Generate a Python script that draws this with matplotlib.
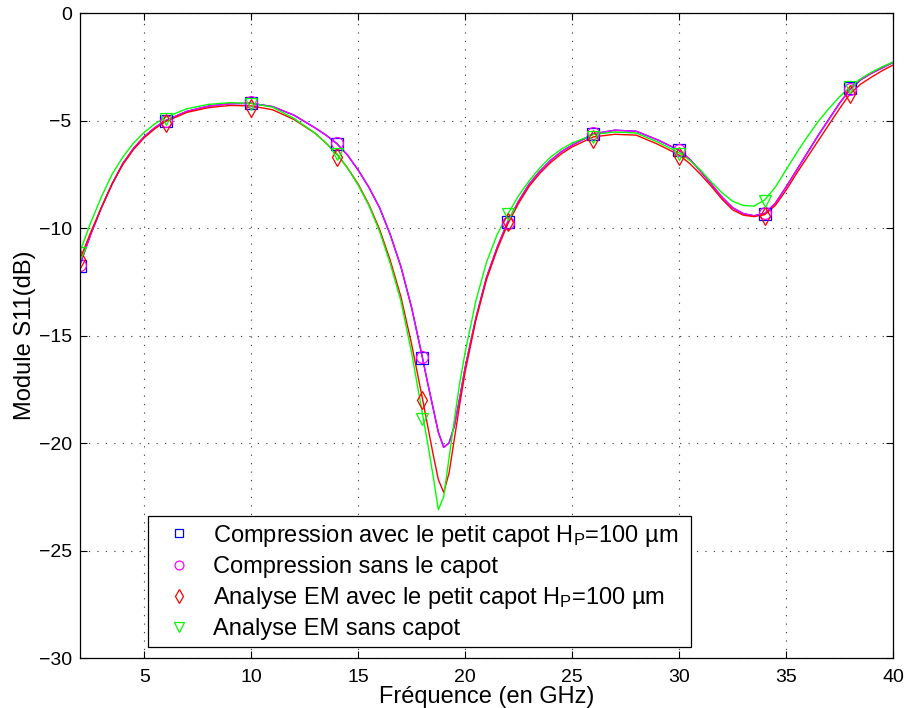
import matplotlib
matplotlib.use("Agg")
import matplotlib.pyplot as plt

plt.rcParams['font.family'] = ['Liberation Sans', 'DejaVu Sans']
plt.rcParams['mathtext.fontset'] = 'custom'
plt.rcParams['mathtext.rm'] = 'Liberation Sans'
plt.rcParams['mathtext.it'] = 'Liberation Sans'

# measured points (GHz, dB)
freq = [2, 6, 10, 14, 18, 22, 26, 30, 34, 38]
comp_avec = [-11.75, -5.0, -4.2, -6.1, -16.05, -9.7, -5.65, -6.38, -9.33, -3.5]
comp_sans = [-11.7, -5.0, -4.15, -6.05, -16.0, -9.75, -5.6, -6.35, -9.3, -3.55]
em_avec = [-11.45, -5.1, -4.4, -6.7, -18.0, -9.7, -5.85, -6.65, -9.45, -3.75]
em_sans = [-11.15, -4.95, -4.25, -6.55, -18.9, -9.35, -5.75, -6.55, -8.75, -3.45]

# smooth curves
f_curve = [2, 2.5, 3, 3.5, 4, 4.5, 5, 5.5,
           6, 7, 8, 9, 10, 11, 12, 13,
           13.5, 14, 14.5, 15, 15.5, 16, 16.5, 17, 17.5,
           18, 18.25, 18.5, 18.75, 19, 19.25, 19.5, 19.75, 20,
           20.5, 21, 21.5, 22, 22.5, 23, 23.5, 24, 24.5, 25,
           26, 27, 28, 29, 30,
           30.5, 31, 31.5, 32, 32.5, 33, 33.5, 34, 34.5, 35,
           35.5, 36, 36.5, 37, 37.5, 38, 38.5, 39, 39.5, 40]
curve_comp = [-11.7, -10.3, -9.05, -7.95, -7.0, -6.3, -5.75, -5.33,
              -5.0, -4.57, -4.33, -4.22, -4.2, -4.35, -4.75, -5.35,
              -5.68, -6.07, -6.6, -7.3, -8.1, -9.05, -10.3, -11.8, -13.7,
              -16.0, -17.2, -18.35, -19.5, -20.2, -20.0, -19.2, -17.9, -16.5,
              -14.2, -12.3, -10.9, -9.7, -8.75, -7.95, -7.35, -6.85, -6.45, -6.15,
              -5.62, -5.45, -5.5, -5.9, -6.38,
              -6.8, -7.35, -7.95, -8.55, -9.05, -9.33, -9.43, -9.33, -8.85, -8.1,
              -7.3, -6.5, -5.7, -4.95, -4.2, -3.55, -3.1, -2.8, -2.55, -2.3]
curve_em_avec = [-11.45, -10.2, -9.05, -7.95, -7.05, -6.35, -5.8, -5.38,
                 -5.05, -4.62, -4.4, -4.3, -4.32, -4.5, -4.95, -5.6,
                 -6.05, -6.55, -7.2, -7.95, -8.9, -10.05, -11.5, -13.2, -15.4,
                 -17.9, -19.2, -20.5, -21.7, -22.3, -21.4, -19.8, -18.2, -16.7,
                 -14.3, -12.4, -11.0, -9.8, -8.85, -8.05, -7.45, -6.95, -6.55, -6.23,
                 -5.76, -5.64, -5.68, -6.1, -6.6,
                 -7.0, -7.5, -8.05, -8.65, -9.15, -9.4, -9.47, -9.38, -8.95, -8.25,
                 -7.45, -6.7, -5.95, -5.2, -4.45, -3.75, -3.3, -2.98, -2.68, -2.42]
curve_em_sans = [-11.1, -9.75, -8.55, -7.5, -6.7, -6.05, -5.55, -5.15,
                 -4.85, -4.45, -4.25, -4.17, -4.2, -4.38, -4.9, -5.6,
                 -6.05, -6.55, -7.2, -8.0, -8.95, -10.15, -11.65, -13.4, -15.8,
                 -18.6, -20.0, -21.5, -23.1, -22.5, -20.7, -18.9, -17.2, -15.8,
                 -13.4, -11.6, -10.3, -9.35, -8.5, -7.8, -7.2, -6.7, -6.33, -6.05,
                 -5.65, -5.53, -5.58, -6.0, -6.5,
                 -6.85, -7.3, -7.85, -8.35, -8.75, -8.95, -8.98, -8.7, -8.1, -7.3,
                 -6.5, -5.75, -5.05, -4.45, -3.9, -3.43, -3.05, -2.75, -2.5, -2.28]

labels = ['Compression avec le petit capot H$_\\mathrm{P}$=100 µm',
          'Compression sans le capot',
          'Analyse EM avec le petit capot H$_\\mathrm{P}$=100 µm',
          'Analyse EM sans capot']

fig = plt.figure(figsize=(9.05, 7.08), dpi=100)
ax = fig.add_axes([0.0884, 0.0706, 0.8983, 0.911])

lw = 1.0
ax.plot(f_curve, curve_comp, color='#0000ff', lw=lw)
ax.plot(f_curve, curve_comp, color='#ff00ff', lw=lw)
ax.plot(f_curve, curve_em_avec, color='#ff0000', lw=lw)
ax.plot(f_curve, curve_em_sans, color='#00ff00', lw=lw)

mk = dict(linestyle='none', markerfacecolor='none', markeredgewidth=0.9)
ax.plot(freq, comp_avec, marker='s', color='#0000ff', ms=8, label=labels[0], **mk)
ax.plot(freq, comp_sans, marker='o', color='#ff00ff', ms=8.5, label=labels[1], **mk)
ax.plot(freq, em_avec, marker='d', color='#ff0000', ms=9, label=labels[2], **mk)
ax.plot(freq, em_sans, marker='v', color='#00ff00', ms=9, label=labels[3], **mk)

ax.set_xlim(2, 40)
ax.set_ylim(-30, 0)
ax.set_xticks([5, 10, 15, 20, 25, 30, 35, 40])
ax.set_yticks([-30, -25, -20, -15, -10, -5, 0])
ax.tick_params(direction='in', top=True, right=True, length=5, width=0.8,
               labelsize=14)
ax.tick_params(axis='x', pad=8)
ax.tick_params(axis='y', pad=6)
ax.grid(True, color='0.25', linestyle=(0, (1.1, 6.5)), linewidth=0.8)
for s in ax.spines.values():
    s.set_linewidth(0.9)

ax.set_xlabel('Fréquence (en GHz)', fontsize=17, labelpad=0)
ax.set_ylabel('Module S11(dB)', fontsize=17, labelpad=2)

leg = ax.legend(loc='lower left', bbox_to_anchor=(0.084, 0.017, 0.667, 0.2),
                mode='expand', borderaxespad=0, fontsize=17, fancybox=False,
                framealpha=1, edgecolor='k', handlelength=2.0, markerscale=0.75,
                handletextpad=0.45, labelspacing=0.3, borderpad=0.3)
leg.get_frame().set_linewidth(0.9)

fig.savefig('out.png', dpi=100)
